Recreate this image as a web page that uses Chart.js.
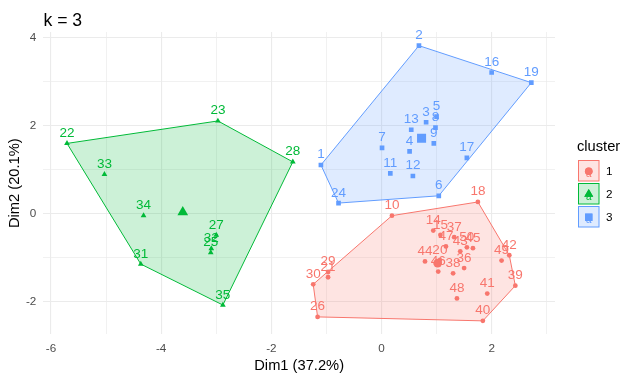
<!DOCTYPE html>
<html>
<head>
<meta charset="utf-8">
<script src="https://cdn.jsdelivr.net/npm/chart.js@4/dist/chart.umd.min.js"></script>
<style>
  html, body { margin: 0; padding: 0; background: #ffffff; }
  #wrap { width: 635px; height: 380px; position: relative; }
</style>
</head>
<body>
<div id="wrap"><canvas id="c" width="635" height="380"></canvas></div>
<script>
// ---- data (fviz_cluster, k = 3) ----
const pointNames = ['1','2','3','4','5','6','7','8','9','10',
  '11','12','13','14','15','16','17','18','19','20',
  '21','22','23','24','25','26','27','28','29','30',
  '31','32','33','34','35','36','37','38','39','40',
  '41','42','43','44','45','46','47','48','49','50'];
const dim1 = [-1.10, 0.68, 0.81, 0.51, 1.00, 1.04, 0.01, 0.98, 0.95, 0.19,
  0.16, 0.57, 0.54, 0.94, 1.07, 2.00, 1.55, 1.75, 2.72, 1.06,
  -0.97, -5.71, -2.97, -0.78, -3.10, -1.16, -3.00, -1.61, -0.97, -1.24,
  -4.37, -3.09, -5.03, -4.32, -2.88, 1.50, 1.32, 1.30, 2.43, 1.84,
  1.92, 2.32, 1.43, 0.79, 1.66, 1.03, 1.17, 1.37, 2.18, 1.55];
const dim2 = [1.10, 3.81, 2.07, 1.41, 2.20, 0.40, 1.49, 1.95, 1.59, -0.05,
  0.91, 0.85, 1.90, -0.39, -0.49, 3.20, 1.26, 0.26, 2.97, -1.06,
  -1.45, 1.59, 2.10, 0.235, -0.89, -2.35, -0.49, 1.17, -1.33, -1.61,
  -1.15, -0.80, 0.89, -0.05, -2.08, -1.24, -0.54, -1.36, -1.64, -2.44,
  -1.82, -0.95, -0.86, -1.09, -0.79, -1.32, -0.75, -1.93, -1.07, -0.77];
const cluster = [3,3,3,3,3,3,3,3,3,1,
  3,3,3,1,1,3,3,1,3,1,
  1,2,2,3,2,1,2,2,1,1,
  2,2,2,2,2,1,1,1,1,1,
  1,1,1,1,1,1,1,1,1,1];
const clusterIds = [1, 2, 3];
const xTickLabels = [-6, -4, -2, 0, 2];
const yTickLabels = [-2, 0, 2, 4];
const titleText = 'k = 3';
const xTitle = 'Dim1 (37.2%)';
const yTitle = 'Dim2 (20.1%)';
const legendTitle = 'cluster';

// ---- styles ----
const colors = {1: '#F8766D', 2: '#00BA38', 3: '#619CFF'};
const fills = {1: 'rgba(248,118,109,0.2)', 2: 'rgba(0,186,56,0.2)', 3: 'rgba(97,156,255,0.2)'};
const shapes = {1: 'circle', 2: 'triangle', 3: 'rect'};
const smallR = {1: 2.4, 2: 3.3, 3: 3.3};
const bigR = {1: 4.4, 2: 6.2, 3: 6.4};
const FONT = "'Liberation Sans', Arial, Helvetica, sans-serif";

function pointsOf(k) {
  const out = [];
  for (let i = 0; i < dim1.length; i++) if (cluster[i] === k) out.push({x: dim1[i], y: dim2[i], name: pointNames[i]});
  return out;
}
function convexHull(pts) {
  const p = pts.map(o => ({x: o.x, y: o.y})).sort((a, b) => a.x - b.x || a.y - b.y);
  const cross = (o, a, b) => (a.x - o.x) * (b.y - o.y) - (a.y - o.y) * (b.x - o.x);
  const lower = [], upper = [];
  for (const q of p) { while (lower.length >= 2 && cross(lower[lower.length-2], lower[lower.length-1], q) <= 0) lower.pop(); lower.push(q); }
  for (let i = p.length - 1; i >= 0; i--) { const q = p[i]; while (upper.length >= 2 && cross(upper[upper.length-2], upper[upper.length-1], q) <= 0) upper.pop(); upper.push(q); }
  upper.pop(); lower.pop();
  const h = lower.concat(upper);
  h.push({x: h[0].x, y: h[0].y});
  return h;
}
function centroid(pts) {
  const n = pts.length;
  return {x: pts.reduce((s, o) => s + o.x, 0) / n, y: pts.reduce((s, o) => s + o.y, 0) / n};
}

const datasets = [];
clusterIds.forEach(k => {
  const pts = pointsOf(k);
  datasets.push({
    label: 'hull' + k, data: convexHull(pts), showLine: true, fill: 'shape',
    backgroundColor: fills[k], borderColor: colors[k], borderWidth: 1,
    pointRadius: 0, tension: 0, order: 3
  });
  datasets.push({
    label: 'pts' + k, data: pts.map(o => ({x: o.x, y: o.y})),
    pointStyle: shapes[k], pointRadius: smallR[k], backgroundColor: colors[k],
    borderColor: colors[k], borderWidth: 0, order: 2
  });
  datasets.push({
    label: 'ctr' + k, data: [centroid(pts)],
    pointStyle: shapes[k], pointRadius: bigR[k], backgroundColor: colors[k],
    borderColor: colors[k], borderWidth: 0, order: 1
  });
});

const isInt = v => Math.abs(v - Math.round(v)) < 1e-9;
function integerTicks(s) {
  const out = [];
  for (let v = Math.ceil(s.min); v <= Math.floor(s.max); v++) out.push({value: v});
  s.ticks = out;
}

const decor = {
  id: 'decor',
  afterDatasetsDraw(chart) {
    const ctx = chart.ctx;
    const xs = chart.scales.x, ys = chart.scales.y;
    ctx.save();
    // point labels
    ctx.font = '13.5px ' + FONT;
    ctx.textAlign = 'center';
    ctx.textBaseline = 'alphabetic';
    for (let i = 0; i < dim1.length; i++) {
      ctx.fillStyle = colors[cluster[i]];
      ctx.fillText(pointNames[i], xs.getPixelForValue(dim1[i]), ys.getPixelForValue(dim2[i]) - 6.5);
    }
    // title
    ctx.fillStyle = '#000000';
    ctx.textAlign = 'left';
    ctx.font = '17.6px ' + FONT;
    ctx.fillText(titleText, 43.5, 26);
    // legend
    ctx.font = '14.7px ' + FONT;
    ctx.textBaseline = 'middle';
    ctx.fillText(legendTitle, 577, 147);
    clusterIds.forEach((k, j) => {
      const bx = 578.5, by = 160.5 + j * 23, bs = 20.5;
      ctx.fillStyle = fills[k];
      ctx.fillRect(bx, by, bs, bs);
      ctx.strokeStyle = colors[k];
      ctx.lineWidth = 1;
      ctx.strokeRect(bx, by, bs, bs);
      const cx = bx + bs / 2, cy = by + bs / 2;
      ctx.fillStyle = colors[k];
      ctx.font = '10px ' + FONT;
      ctx.textAlign = 'center';
      ctx.fillText('a', cx, cy + 3);
      Chart.helpers.drawPoint(ctx, {pointStyle: shapes[k], radius: k === 1 ? 3.8 : 5.2, borderWidth: 0}, cx, cy + 0.5);
      ctx.fillStyle = colors[k];
      ctx.fill();
      ctx.fillStyle = '#000000';
      ctx.textAlign = 'left';
      ctx.font = '11.7px ' + FONT;
      ctx.fillText(String(k), 606, cy + 1);
    });
    ctx.restore();
  }
};

function gridColor(ctx) { return '#EBEBEB'; }
function gridWidth(list) { return ctx => (ctx.tick && list.includes(Math.round(ctx.tick.value)) ? 1.1 : 0.7); }

new Chart(document.getElementById('c'), {
  type: 'scatter',
  data: { datasets },
  options: {
    responsive: false,
    devicePixelRatio: 1,
    animation: false,
    layout: { padding: { top: 32, right: 80, left: 0, bottom: 0 } },
    plugins: { legend: { display: false }, tooltip: { enabled: false }, title: { display: false } },
    scales: {
      x: {
        type: 'linear', min: -6.14, max: 3.15,
        afterBuildTicks: integerTicks,
        afterFit: s => { s.height = 45.7; },
        ticks: {
          autoSkip: false, maxRotation: 0, padding: 7,
          color: '#4D4D4D', font: { family: FONT, size: 11.7 },
          callback: v => (xTickLabels.includes(Math.round(v)) && isInt(v) ? String(Math.round(v)) : '')
        },
        grid: { drawTicks: false, color: gridColor, lineWidth: gridWidth(xTickLabels) },
        border: { display: false },
        title: { display: true, text: xTitle, color: '#000000', font: { family: FONT, size: 14.7 }, padding: { top: 0, bottom: 5 } }
      },
      y: {
        type: 'linear', min: -2.745, max: 4.12,
        afterBuildTicks: integerTicks,
        afterFit: s => { s.width = 43.3; },
        ticks: {
          autoSkip: false, padding: 7,
          color: '#4D4D4D', font: { family: FONT, size: 11.7 },
          callback: v => (yTickLabels.includes(Math.round(v)) && isInt(v) ? String(Math.round(v)) : '')
        },
        grid: { drawTicks: false, color: gridColor, lineWidth: gridWidth(yTickLabels) },
        border: { display: false },
        title: { display: true, text: yTitle, color: '#000000', font: { family: FONT, size: 14.7 }, padding: { top: 6, bottom: 0 } }
      }
    }
  },
  plugins: [decor]
});
</script>
</body>
</html>
